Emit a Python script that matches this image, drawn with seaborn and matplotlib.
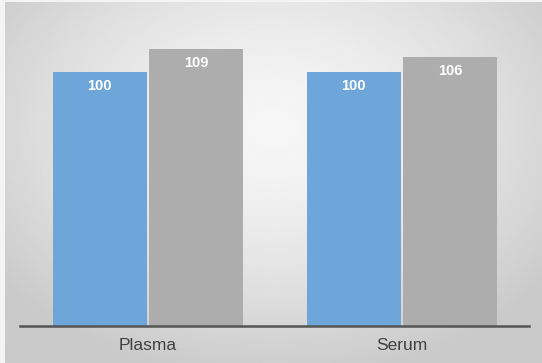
import numpy as np
import pandas as pd
import matplotlib
matplotlib.use("Agg")
import matplotlib.pyplot as plt
import seaborn as sns

# Data
categories = ["Plasma", "Serum"]
series_names = ["Reference", "Sample"]
reference_values = [100, 100]
sample_values = [109, 106]
bar_colors = ["#6ea6da", "#adadad"]

df = pd.DataFrame({
    "matrix": categories * 2,
    "series": [series_names[0]] * 2 + [series_names[1]] * 2,
    "value": reference_values + sample_values,
})

sns.set_theme(style="white")
plt.rcParams["font.family"] = ["Liberation Sans", "DejaVu Sans"]

W, H = 542, 363
fig = plt.figure(figsize=(W / 100, H / 100), dpi=100)

# Background panel with a soft radial gradient
bg = fig.add_axes([0, 0, 1, 1], zorder=0)
bg.set_xlim(0, W)
bg.set_ylim(H, 0)
bg.axis("off")
bg.add_patch(plt.Rectangle((0, 0), W, H, color="#f4f4f4", zorder=0))
gx = np.linspace(-1, 1, 400)
gy = np.linspace(-1, 1, 300)
X, Y = np.meshgrid(gx, gy)
cx, cy = 0.0, -0.3
r = np.sqrt(((X - cx) / 1.05) ** 2 + ((Y - cy) / 1.15) ** 2)
shade = 0.965 - 0.13 * np.clip(r, 0, 1.4) ** 1.5
shade = np.clip(shade, 0.79, 0.965)
bg.imshow(shade, cmap="gray", vmin=0, vmax=1, extent=[5, W, H, 2],
          aspect="auto", interpolation="bilinear", zorder=1)

# Main chart axes
baseline_px = 326
top_px = 2
ax = fig.add_axes([20 / W, (H - baseline_px) / H, 509 / W,
                   (baseline_px - top_px) / H], zorder=2)
ax.patch.set_alpha(0)

sns.barplot(data=df, x="matrix", y="value", hue="series",
            palette=bar_colors, width=0.76, gap=0.03,
            saturation=1, legend=False, linewidth=0, ax=ax)

ax.set_xlim(-0.504, 1.5)
ax.set_ylim(0, (baseline_px - top_px) / 2.54)

for container in ax.containers:
    ax.bar_label(container, labels=[f"{v:.0f}" for v in container.datavalues],
                 label_type="edge", padding=-15, color="white",
                 fontsize=10.5, fontweight="bold")

for side in ["left", "right", "top"]:
    ax.spines[side].set_visible(False)
ax.spines["bottom"].set_color("#555555")
ax.spines["bottom"].set_linewidth(1.8)
ax.set_yticks([])
ax.tick_params(axis="x", length=0, pad=9, labelsize=12.5, labelcolor="#404040")
ax.set_xlabel("")
ax.set_ylabel("")

fig.savefig("out.png", dpi=100)
